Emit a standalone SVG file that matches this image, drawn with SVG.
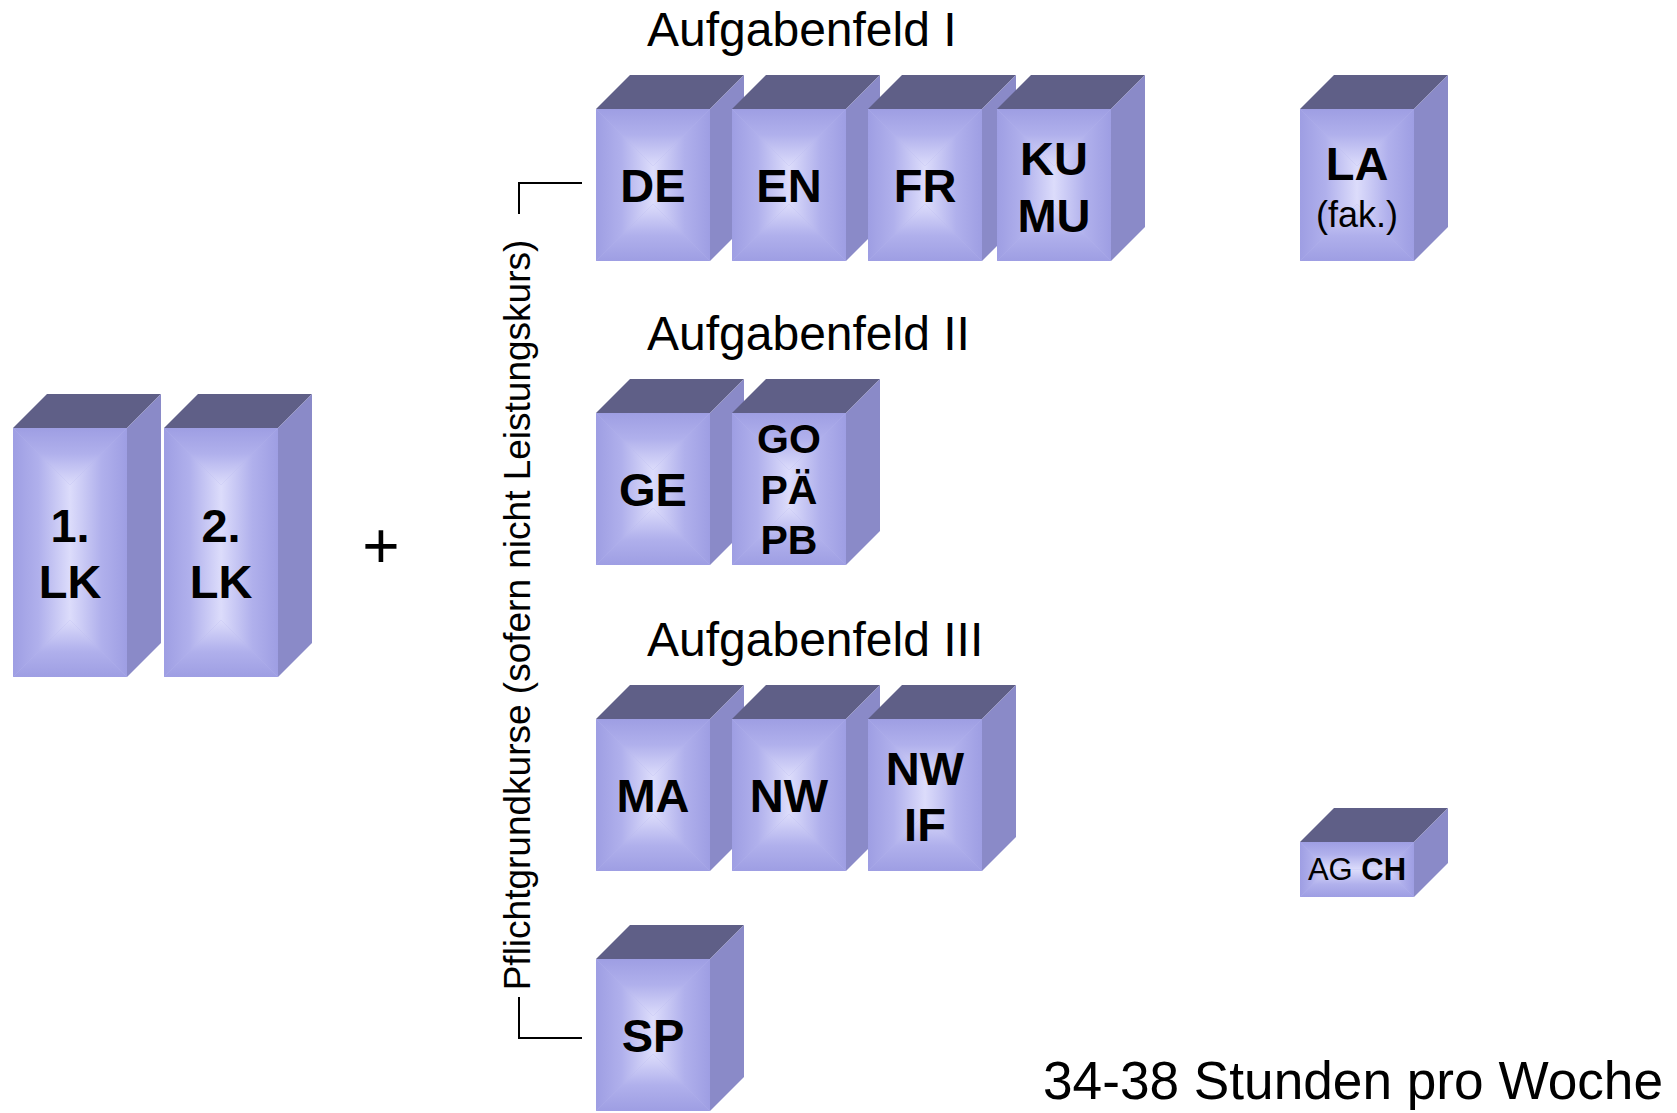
<svg xmlns="http://www.w3.org/2000/svg" xmlns:xlink="http://www.w3.org/1999/xlink" width="1677" height="1113" viewBox="0 0 1677 1113">
<defs>
<style>
.top{fill:#5f5f87}
.side{fill:#8a8ac8}
.base{fill:#b4b4ec}
.lbl{font-family:"Liberation Sans",Arial,sans-serif;font-weight:bold;font-size:47px;fill:#000;text-anchor:middle}
.head{font-family:"Liberation Sans",Arial,sans-serif;font-size:48px;fill:#000}
</style>
<linearGradient id="gT" x1="0" y1="0" x2="0" y2="1"><stop offset="0" stop-color="#9e9ee3"/><stop offset="0.45" stop-color="#b0b0ec"/><stop offset="1" stop-color="#dcdcfb"/></linearGradient>
<linearGradient id="gB" x1="0" y1="1" x2="0" y2="0"><stop offset="0" stop-color="#9e9ee3"/><stop offset="0.45" stop-color="#b0b0ec"/><stop offset="1" stop-color="#dcdcfb"/></linearGradient>
<linearGradient id="gL" x1="0" y1="0" x2="1" y2="0"><stop offset="0" stop-color="#9e9ee3"/><stop offset="0.45" stop-color="#b0b0ec"/><stop offset="1" stop-color="#dcdcfb"/></linearGradient>
<linearGradient id="gR" x1="1" y1="0" x2="0" y2="0"><stop offset="0" stop-color="#9e9ee3"/><stop offset="0.45" stop-color="#b0b0ec"/><stop offset="1" stop-color="#dcdcfb"/></linearGradient>
<g id="cube">
<polygon class="top" points="0,0 34,-34 148,-34 114,0"/>
<polygon class="side" points="114,0 148,-34 148,118 114,152"/>
<rect class="base" x="0" y="0" width="114" height="152"/>
<polygon fill="url(#gT)" points="0,0 114,0 57,57"/>
<polygon fill="url(#gB)" points="0,152 114,152 57,95"/>
<polygon fill="url(#gL)" points="0,0 57,57 57,95 0,152"/>
<polygon fill="url(#gR)" points="114,0 57,57 57,95 114,152"/>
</g>
<g id="cubeTall">
<polygon class="top" points="0,0 34,-34 148,-34 114,0"/>
<polygon class="side" points="114,0 148,-34 148,215 114,249"/>
<rect class="base" x="0" y="0" width="114" height="249"/>
<polygon fill="url(#gT)" points="0,0 114,0 57,57"/>
<polygon fill="url(#gB)" points="0,249 114,249 57,192"/>
<polygon fill="url(#gL)" points="0,0 57,57 57,192 0,249"/>
<polygon fill="url(#gR)" points="114,0 57,57 57,192 114,249"/>
</g>
<g id="cubeFlat">
<polygon class="top" points="0,0 34,-34 148,-34 114,0"/>
<polygon class="side" points="114,0 148,-34 148,21 114,55"/>
<rect class="base" x="0" y="0" width="114" height="55"/>
<polygon fill="url(#gT)" points="0,0 114,0 86.5,27.5 27.5,27.5"/>
<polygon fill="url(#gB)" points="0,55 114,55 86.5,27.5 27.5,27.5"/>
<polygon fill="url(#gL)" points="0,0 27.5,27.5 0,55"/>
<polygon fill="url(#gR)" points="114,0 86.5,27.5 114,55"/>
</g>
</defs>
<rect width="1677" height="1113" fill="#fff"/>

<g id="headings">
<text class="head" x="647" y="46">Aufgabenfeld I</text>
<text class="head" x="647" y="350">Aufgabenfeld II</text>
<text class="head" x="647" y="656">Aufgabenfeld III</text>
<text class="head" x="1043" y="1099" textLength="620" lengthAdjust="spacingAndGlyphs" style="font-size:53px">34-38 Stunden pro Woche</text>
<text class="head" x="381" y="568" text-anchor="middle" style="font-size:64px">+</text>
<text class="head" x="530" y="615" text-anchor="middle" transform="rotate(-90 530 615)" style="font-size:37px">Pflichtgrundkurse (sofern nicht Leistungskurs)</text>
</g>

<g id="connectors" fill="none" stroke="#000" stroke-width="2">
<path d="M582,183 H519 V214"/>
<path d="M519,997 V1038 H582"/>
</g>

<g id="node-LK1" transform="translate(13,428)"><use xlink:href="#cubeTall"/><text class="lbl" x="57" y="114">1.</text><text class="lbl" x="57" y="170">LK</text></g>
<g id="node-LK2" transform="translate(164,428)"><use xlink:href="#cubeTall"/><text class="lbl" x="57" y="114">2.</text><text class="lbl" x="57" y="170">LK</text></g>

<g id="node-DE" transform="translate(596,109)"><use xlink:href="#cube"/><text class="lbl" x="57" y="93">DE</text></g>
<g id="node-EN" transform="translate(732,109)"><use xlink:href="#cube"/><text class="lbl" x="57" y="93">EN</text></g>
<g id="node-FR" transform="translate(868,109)"><use xlink:href="#cube"/><text class="lbl" x="57" y="93">FR</text></g>
<g id="node-KUMU" transform="translate(997,109)"><use xlink:href="#cube"/><text class="lbl" x="57" y="66">KU</text><text class="lbl" x="57" y="123">MU</text></g>
<g id="node-LA" transform="translate(1300,109)"><use xlink:href="#cube"/><text class="lbl" x="57" y="71">LA</text><text class="lbl" x="57" y="118" style="font-weight:normal;font-size:36px">(fak.)</text></g>

<g id="node-GE" transform="translate(596,413)"><use xlink:href="#cube"/><text class="lbl" x="57" y="93">GE</text></g>
<g id="node-GOPAPB" transform="translate(732,413)"><use xlink:href="#cube"/><text class="lbl" x="57" y="40" style="font-size:41px">GO</text><text class="lbl" x="57" y="91" style="font-size:41px">PÄ</text><text class="lbl" x="57" y="141" style="font-size:41px">PB</text></g>

<g id="node-MA" transform="translate(596,719)"><use xlink:href="#cube"/><text class="lbl" x="57" y="93">MA</text></g>
<g id="node-NW" transform="translate(732,719)"><use xlink:href="#cube"/><text class="lbl" x="57" y="93">NW</text></g>
<g id="node-NWIF" transform="translate(868,719)"><use xlink:href="#cube"/><text class="lbl" x="57" y="66">NW</text><text class="lbl" x="57" y="122">IF</text></g>

<g id="node-SP" transform="translate(596,959)"><use xlink:href="#cube"/><text class="lbl" x="57" y="93">SP</text></g>

<g id="node-AGCH" transform="translate(1300,842)"><use xlink:href="#cubeFlat"/><text class="lbl" x="57" y="38" style="font-size:31px"><tspan style="font-weight:normal">AG </tspan>CH</text></g>
</svg>
